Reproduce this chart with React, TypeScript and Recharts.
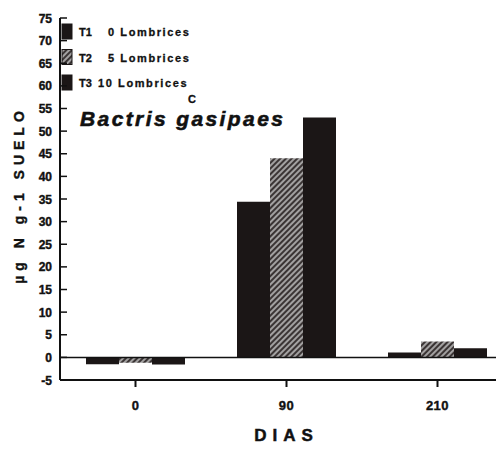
import React from 'react';
import { BarChart, Bar, XAxis, YAxis, ReferenceLine, Customized } from 'recharts';

const categories = ['0', '90', '210'];
const t1Values = [-1.5, 34.4, 1.1];
const t2Values = [-1.2, 44.0, 3.5];
const t3Values = [-1.6, 53.0, 2.0];
const yTicks = [-5, 0, 5, 10, 15, 20, 25, 30, 35, 40, 45, 50, 55, 60, 65, 70, 75];
const legendCodes = ['T1', 'T2', 'T3'];
const legendNames = ['0 Lombrices', '5 Lombrices', '10 Lombrices'];
const titleText = 'Bactris gasipaes';
const letterText = 'C';
const yLabel = 'µg N g-1   SUELO';
const xLabel = 'DIAS';

const data = categories.map((c, i) => ({ dia: c, t1: t1Values[i], t2: t2Values[i], t3: t3Values[i] }));

const FONT = '"Liberation Sans", Arial, sans-serif';
const DARK = '#1b1616';
const INK = '#111';

const YTick = (props: any) => {
  const { x, y, payload } = props;
  return (
    <g>
      <line x1={x + 8} x2={x + 15} y1={y} y2={y} stroke={INK} strokeWidth={1.5} />
      <text x={x} y={y} dy={4.5} textAnchor="end" fontSize={12} fontWeight="bold" fill={INK} stroke={INK} strokeWidth={0.4} fontFamily={FONT}>
        {payload.value}
      </text>
    </g>
  );
};

const XTick = (props: any) => {
  const { x, y, payload } = props;
  return (
    <text x={x} y={y} dy={11} textAnchor="middle" fontSize={13} fontWeight="bold" fill={INK} stroke={INK} strokeWidth={0.4} fontFamily={FONT} letterSpacing={0.5}>
      {payload.value}
    </text>
  );
};

const Extras = () => (
  <g fontFamily={FONT}>
    {legendCodes.map((code, i) => {
      const cy = 24 + i * 25.5;
      return (
        <g key={code}>
          <rect x={54} y={cy - 8} width={10} height={15} fill={i === 1 ? 'url(#hatch)' : DARK} stroke={DARK} strokeWidth={1} />
          <text x={71} y={cy + 4} fontSize={11} fontWeight="bold" fill={INK} stroke={INK} strokeWidth={0.3}>{code}</text>
          <text x={i === 2 ? 90 : 100} y={cy + 4} fontSize={11} fontWeight="bold" fill={INK} stroke={INK} strokeWidth={0.3} letterSpacing={1.6}>
            {legendNames[i]}
          </text>
        </g>
      );
    })}
    <text x={180} y={95} fontSize={11} fontWeight="bold" fill={INK} stroke={INK} strokeWidth={0.3}>{letterText}</text>
    <text x={72} y={118} fontSize={21} fontWeight="bold" fontStyle="italic" fill={INK} stroke={INK} strokeWidth={0.6} letterSpacing={2.4}>
      {titleText}
    </text>
    <text
      x={0}
      y={0}
      transform="translate(16,187) rotate(-90)"
      textAnchor="middle"
      fontSize={14}
      fontWeight="bold"
      fill={INK}
      stroke={INK}
      strokeWidth={0.4}
      letterSpacing={5}
    >
      {yLabel}
    </text>
  </g>
);

export default function App() {
  return (
    <div style={{ width: 496, height: 443, overflow: 'hidden', background: '#fff' }}>
      <BarChart
        width={520}
        height={443}
        data={data}
        margin={{ top: 10, right: 15, bottom: 21, left: 0 }}
        barSize={33}
        barGap={0}
      >
        <defs>
          <pattern id="hatch" width={4} height={4} patternUnits="userSpaceOnUse" patternTransform="rotate(45)">
            <rect width={4} height={4} fill="#3a3434" />
            <line x1={1} y1={0} x2={1} y2={4} stroke="#cfcfcf" strokeWidth={1.4} />
          </pattern>
        </defs>
        <XAxis
          dataKey="dia"
          stroke={INK}
          strokeWidth={2}
          tickSize={7}
          tickMargin={12}
          height={50}
          tick={<XTick />}
          label={{ value: xLabel, position: 'bottom', offset: -1, fill: INK, stroke: INK, strokeWidth: 0.5, fontSize: 17, fontWeight: 'bold', letterSpacing: 6, fontFamily: FONT }}
        />
        <YAxis
          domain={[-5, 75]}
          ticks={yTicks}
          interval={0}
          width={52}
          stroke={INK}
          strokeWidth={2}
          tickSize={0}
          tickMargin={8}
          tick={<YTick />}
        />
        <ReferenceLine y={0} stroke={INK} strokeWidth={1.5} />
        <Bar dataKey="t1" fill={DARK} isAnimationActive={false} />
        <Bar dataKey="t2" fill="url(#hatch)" isAnimationActive={false} />
        <Bar dataKey="t3" fill={DARK} isAnimationActive={false} />
        <Customized component={Extras} />
      </BarChart>
    </div>
  );
}
